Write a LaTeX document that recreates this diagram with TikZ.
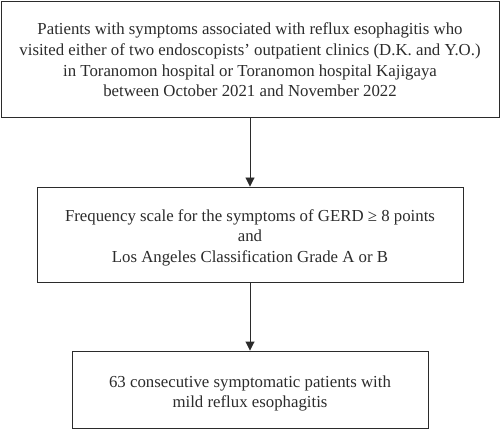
\documentclass[tikz,border=0pt]{standalone}
\usepackage{fontspec}
\setmainfont{Liberation Serif}
\usetikzlibrary{arrows.meta}
\definecolor{ink}{HTML}{2B2B2B}
\begin{document}
\begin{tikzpicture}[x=1pt,y=-1pt,
  box/.style={draw=ink,line width=0.9pt,inner sep=0pt},
  txt/.style={align=center,text=ink,inner sep=0pt,
    font=\fontsize{16.8}{20.6}\selectfont},
  conn/.style={draw=ink,line width=0.9pt,-{Triangle[length=9pt,width=9pt]}}]
\useasboundingbox (0,0) rectangle (500,430);
\node[box,minimum width=498pt,minimum height=116pt] (a) at (250,59) {};
\node[txt] (at) at (250,60)
 {Patients with symptoms associated with reflux esophagitis who\\
  visited either of two endoscopists’ outpatient clinics (D.K. and Y.O.)\\
  in Toranomon hospital or Toranomon hospital Kajigaya\\
  between October 2021 and November 2022};
\node[box,minimum width=426pt,minimum height=95pt] (b) at (250,234.5) {};
\node[txt] (bt) at (250,237.5)
 {Frequency scale for the symptoms of GERD ≥ 8 points\\
  and\\
  Los Angeles Classification Grade A or B};
\node[box,minimum width=356pt,minimum height=77pt] (c) at (250,389.5) {};
\node[txt] (ct) at (250,393.5)
 {63 consecutive symptomatic patients with\\
  mild reflux esophagitis};
\draw[conn] (a) -- (b);
\draw[conn] (b) -- (c);
\end{tikzpicture}
\end{document}
